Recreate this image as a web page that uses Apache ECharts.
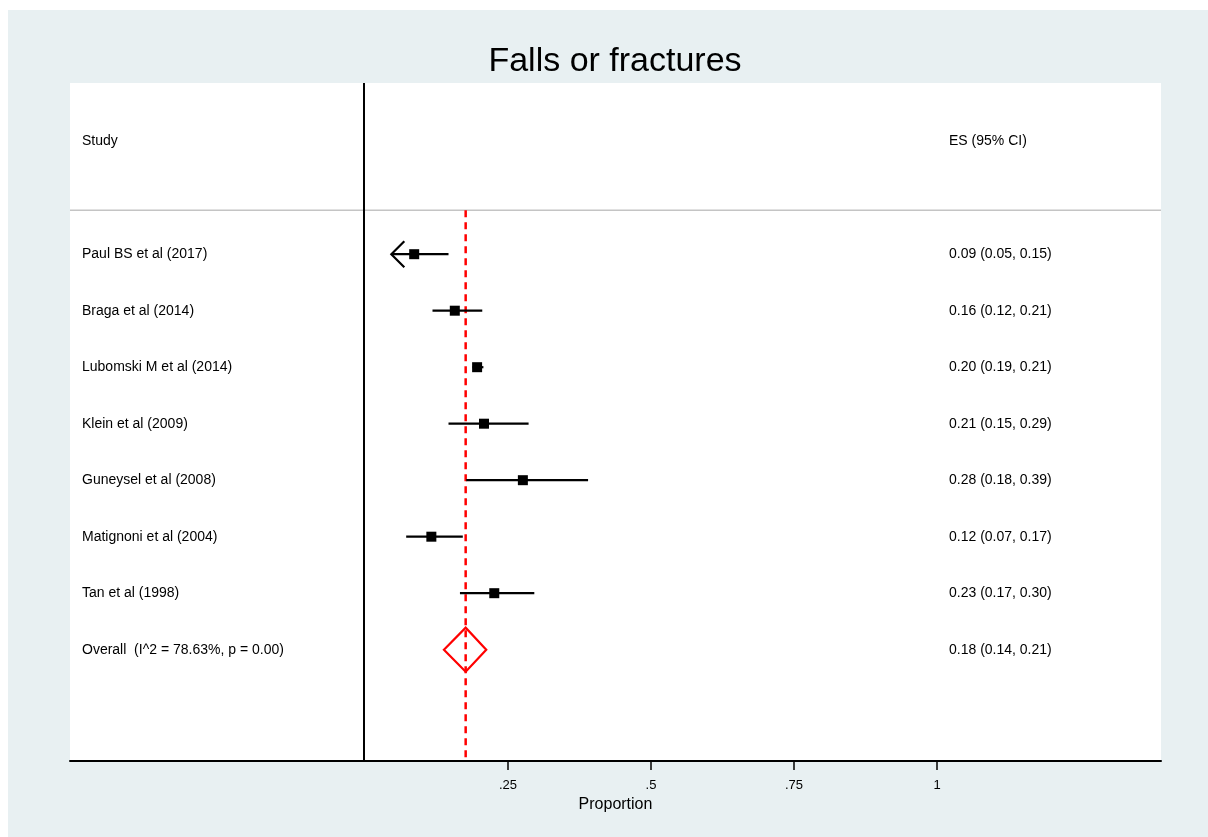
<!DOCTYPE html>
<html>
<head>
<meta charset="utf-8">
<title>Falls or fractures</title>
<script src="https://cdn.jsdelivr.net/npm/echarts@6/dist/echarts.min.js"></script>
<style>
  html, body { margin: 0; padding: 0; background: #ffffff; }
  #chart { position: absolute; left: 8px; top: 10px; width: 1200px; height: 827px; }
</style>
</head>
<body>
<div id="chart"></div>
<script>
// Study-level proportions with 95% confidence intervals
const studies = [
  'Paul BS et al (2017)',
  'Braga et al (2014)',
  'Lubomski M et al (2014)',
  'Klein et al (2009)',
  'Guneysel et al (2008)',
  'Matignoni et al (2004)',
  'Tan et al (1998)'
];
const estimates = [0.086, 0.157, 0.196, 0.208, 0.276, 0.116, 0.226];
const lowerCI   = [0.046, 0.118, 0.188, 0.146, 0.177, 0.072, 0.166];
const upperCI   = [0.146, 0.205, 0.207, 0.286, 0.390, 0.171, 0.296];
const esLabels = [
  '0.09 (0.05, 0.15)',
  '0.16 (0.12, 0.21)',
  '0.20 (0.19, 0.21)',
  '0.21 (0.15, 0.29)',
  '0.28 (0.18, 0.39)',
  '0.12 (0.07, 0.17)',
  '0.23 (0.17, 0.30)'
];
// CI lower bound runs past the display range -> drawn as an arrow
const clippedLeft = [true, false, false, false, false, false, false];

// Pooled random-effects estimate
const overallLabel = 'Overall  (I^2 = 78.63%, p = 0.00)';
const overallValues = [0.176, 0.138, 0.212]; // estimate, lower, upper
const overallESLabel = '0.18 (0.14, 0.21)';

// Axis
const xTicks = [0.25, 0.5, 0.75, 1];
const xTickLabels = ['.25', '.5', '.75', '1'];
const headerStudy = 'Study';
const headerES = 'ES (95% CI)';

const FONT = 'Liberation Sans, Arial, sans-serif';
const X_MIN = -0.51573, X_MAX = 1.39161;
const ROW0 = 3.03, HEADER_ROW = 1.03, SEP_ROW = 2.25, Y_MAX = 12;
const LEFT_TEXT = 12, RIGHT_TEXT = 879;
const TEXT_SIZE = 14;

const chart = echarts.init(document.getElementById('chart'), null, { renderer: 'canvas' });

const rowData = studies.map((s, i) => [ROW0 + i, estimates[i], lowerCI[i], upperCI[i], i]);
const overallRow = ROW0 + studies.length;

function textEl(x, y, text, size, align) {
  return {
    type: 'text',
    x: x, y: y,
    style: {
      text: text, fill: '#000', font: size + 'px ' + FONT,
      align: align || 'left', verticalAlign: 'middle'
    }
  };
}

const option = {
  backgroundColor: '#e8f0f2',
  animation: false,
  grid: {
    left: 62, right: 47, top: 73, bottom: 76,
    show: true, backgroundColor: '#ffffff', borderWidth: 0
  },
  xAxis: {
    type: 'value', min: X_MIN, max: X_MAX,
    name: 'Proportion', nameLocation: 'middle', nameGap: 35,
    nameTextStyle: { color: '#000', fontSize: 16, fontFamily: FONT },
    axisLine: { show: true, onZero: false, lineStyle: { color: '#000', width: 2 } },
    axisTick: { show: true, length: 9, customValues: xTicks, lineStyle: { color: '#000', width: 1.5 } },
    axisLabel: {
      color: '#000', fontSize: 13, fontFamily: FONT, margin: 18,
      customValues: xTicks,
      formatter: v => xTickLabels[xTicks.findIndex(t => Math.abs(t - v) < 1e-9)] || ''
    },
    splitLine: { show: false }
  },
  yAxis: {
    type: 'value', min: 0, max: Y_MAX, inverse: true, show: false
  },
  graphic: [],
  series: [
    {
      // frame: null line at zero, header separator, header texts, pooled reference line
      type: 'custom',
      clip: false,
      data: [[0]],
      z: 1,
      renderItem: (params, api) => {
        const cs = params.coordSys;
        const top0 = api.coord([0, 0]);
        const bot0 = api.coord([0, Y_MAX]);
        const sep = api.coord([0, SEP_ROW]);
        const hdr = api.coord([0, HEADER_ROW]);
        const pTop = api.coord([overallValues[0], SEP_ROW]);
        const pBot = api.coord([overallValues[0], Y_MAX]);
        return {
          type: 'group',
          children: [
            { type: 'line', shape: { x1: cs.x, y1: sep[1], x2: cs.x + cs.width, y2: sep[1] },
              style: { stroke: '#c4c4c4', lineWidth: 1.5 } },
            { type: 'line', shape: { x1: top0[0] - 1, y1: top0[1], x2: bot0[0] - 1, y2: bot0[1] },
              style: { stroke: '#000', lineWidth: 2 } },
            { type: 'line', shape: { x1: pTop[0], y1: pTop[1], x2: pBot[0], y2: pBot[1] },
              style: { stroke: '#ff0000', lineWidth: 2.5, lineDash: [7, 5] }, z2: 5 },
            textEl(cs.x + LEFT_TEXT, hdr[1], headerStudy, TEXT_SIZE),
            textEl(cs.x + RIGHT_TEXT, hdr[1], headerES, TEXT_SIZE)
          ]
        };
      }
    },
    {
      // individual studies: CI whisker, box, labels
      type: 'custom',
      clip: false,
      data: rowData,
      z: 3,
      renderItem: (params, api) => {
        const cs = params.coordSys;
        const row = api.value(0);
        const i = api.value(4);
        const c = api.coord([api.value(1), row]);
        const lo = api.coord([api.value(2), row]);
        const hi = api.coord([api.value(3), row]);
        const box = 10;
        const children = [
          { type: 'line', shape: { x1: lo[0], y1: lo[1], x2: hi[0], y2: hi[1] },
            style: { stroke: '#000', lineWidth: 2.2 } },
          { type: 'rect', shape: { x: c[0] - box / 2, y: c[1] - box / 2, width: box, height: box },
            style: { fill: '#000' } },
          textEl(cs.x + LEFT_TEXT, c[1], studies[i], TEXT_SIZE),
          textEl(cs.x + RIGHT_TEXT, c[1], esLabels[i], TEXT_SIZE)
        ];
        if (clippedLeft[i]) {
          children.push({
            type: 'polyline',
            shape: { points: [[lo[0] + 13, lo[1] - 13], [lo[0], lo[1]], [lo[0] + 13, lo[1] + 13]] },
            style: { stroke: '#000', lineWidth: 2.2, fill: null }
          });
        }
        return { type: 'group', children: children };
      }
    },
    {
      // pooled estimate diamond
      type: 'custom',
      clip: false,
      data: [[overallRow].concat(overallValues)],
      z: 4,
      renderItem: (params, api) => {
        const cs = params.coordSys;
        const row = api.value(0);
        const c = api.coord([api.value(1), row]);
        const lo = api.coord([api.value(2), row]);
        const hi = api.coord([api.value(3), row]);
        const half = 22;
        return {
          type: 'group',
          children: [
            { type: 'polygon',
              shape: { points: [[lo[0], c[1]], [c[0], c[1] - half], [hi[0], c[1]], [c[0], c[1] + half]] },
              style: { stroke: '#ff0000', lineWidth: 2.2, fill: null } },
            textEl(cs.x + LEFT_TEXT, c[1], overallLabel, TEXT_SIZE),
            textEl(cs.x + RIGHT_TEXT, c[1], overallESLabel, TEXT_SIZE)
          ]
        };
      }
    }
  ]
};

option.graphic = [{
  type: 'text',
  x: 607, y: 52,
  style: {
    text: 'Falls or fractures', fill: '#000', font: '34px ' + FONT,
    align: 'center', verticalAlign: 'middle'
  }
}];

chart.setOption(option);
</script>
</body>
</html>
